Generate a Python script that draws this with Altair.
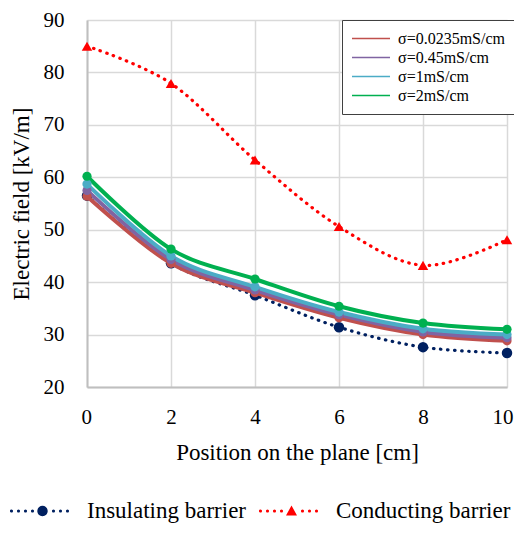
import altair as alt
import pandas as pd

positions = [0, 2, 4, 6, 8, 10]

sigma_labels = ["σ=0.0235mS/cm", "σ=0.45mS/cm", "σ=1mS/cm", "σ=2mS/cm"]
sigma_colors = ["#C0504D", "#8064A2", "#4BACC6", "#00B050"]
sigma_values = [
    [56.4, 43.6, 38.0, 33.2, 30.0, 28.8],
    [57.5, 44.3, 38.5, 33.8, 30.5, 29.4],
    [58.7, 45.0, 39.1, 34.3, 31.1, 30.0],
    [60.2, 46.3, 40.6, 35.4, 32.2, 31.0],
]

barrier_labels = ["Insulating barrier", "Conducting barrier"]
barrier_colors = ["#002060", "#FF0000"]
barrier_values = [
    [56.5, 43.6, 37.5, 31.4, 27.6, 26.5],
    [85.0, 77.9, 63.3, 50.6, 43.2, 48.1],
]

sig_rows = []
for lab, vals in zip(sigma_labels, sigma_values):
    for i, (x, v) in enumerate(zip(positions, vals)):
        sig_rows.append({"pos": x, "E": v, "sigma": lab, "order": i})
sig_df = pd.DataFrame(sig_rows)

bar_rows = []
for lab, vals in zip(barrier_labels, barrier_values):
    for i, (x, v) in enumerate(zip(positions, vals)):
        bar_rows.append({"pos": x, "E": v, "barrier": lab, "order": i})
bar_df = pd.DataFrame(bar_rows)


# legend symbol paths (dotted line with marker in the middle), unit box -1..1
HALF = 32.5  # half width of legend symbol in px


def circ(cx, r):
    return f"M{cx - r:.4f},0a{r:.4f},{r:.4f} 0 1,0 {2 * r:.4f},0a{r:.4f},{r:.4f} 0 1,0 {-2 * r:.4f},0Z"


def dotted(marker):
    parts = []
    px = -HALF + 1.5
    while px <= HALF - 1.5:
        if abs(px) > 8:
            parts.append(circ(px / HALF, 1.6 / HALF))
        px += 7
    if marker == "circle":
        parts.append(circ(0, 5.2 / HALF))
    else:
        h = 5.5 / HALF
        parts.append(f"M0,{-h:.4f}L{h:.4f},{0.8 * h:.4f}L{-h:.4f},{0.8 * h:.4f}Z")
    return "".join(parts)


legend_paths = [dotted("circle"), dotted("triangle")]

FONT = "Liberation Serif"

x_enc = alt.X(
    "pos:Q",
    scale=alt.Scale(domain=[0, 10], nice=False),
    axis=alt.Axis(
        values=positions,
        title="Position on the plane [cm]",
        labelFlush=True,
        labelFlushOffset=6,
    ),
)
y_enc = alt.Y(
    "E:Q",
    scale=alt.Scale(domain=[20, 90], nice=False, zero=False),
    axis=alt.Axis(values=[20, 30, 40, 50, 60, 70, 80, 90], title="Electric field [kV/m]"),
)

bar_color = alt.Color(
    "barrier:N",
    scale=alt.Scale(domain=barrier_labels, range=barrier_colors),
    legend=None,
)

bar_lines = alt.Chart(bar_df).mark_line(
    interpolate="cardinal", strokeWidth=3.2, strokeDash=[0.5, 6.5], strokeCap="round"
).encode(x=x_enc, y=y_enc, color=bar_color, order="order:Q")

bar_points = alt.Chart(bar_df).mark_point(filled=True, opacity=1, size=110).encode(
    x=x_enc,
    y=y_enc,
    color=bar_color,
    shape=alt.Shape(
        "barrier:N",
        scale=alt.Scale(domain=barrier_labels, range=["circle", "triangle-up"]),
        legend=None,
    ),
)

bottom_legend = alt.Legend(
    title=None,
    orient="none",
    direction="horizontal",
    legendX=-77,
    legendY=476,
    labelFont=FONT,
    labelFontSize=23,
    labelColor="#000000",
    labelLimit=400,
    labelOffset=12,
    columnPadding=12,
    symbolSize=(2 * HALF) ** 2,
    symbolOpacity=1,
    symbolStrokeWidth=0,
    clipHeight=30,
    padding=0,
)

legend_layer = alt.Chart(bar_df).mark_point(filled=True, opacity=0).encode(
    x=x_enc,
    y=y_enc,
    color=alt.Color(
        "barrier:N",
        scale=alt.Scale(domain=barrier_labels, range=barrier_colors),
        legend=bottom_legend,
    ),
    shape=alt.Shape(
        "barrier:N",
        scale=alt.Scale(domain=barrier_labels, range=legend_paths),
        legend=bottom_legend,
    ),
)

top_legend = alt.Legend(
    title=None,
    orient="none",
    legendX=255,
    legendY=0,
    symbolType="stroke",
    symbolSize=1444,
    symbolStrokeWidth=1.5,
    labelFont=FONT,
    labelFontSize=16,
    labelColor="#000000",
    labelOffset=7,
    clipHeight=19,
    rowPadding=0,
    padding=9,
    strokeColor="#404040",
    fillColor="#FFFFFF",
)

sig_lines = alt.Chart(sig_df).mark_line(interpolate="cardinal", strokeWidth=4).encode(
    x=x_enc,
    y=y_enc,
    color=alt.Color(
        "sigma:N",
        scale=alt.Scale(domain=sigma_labels, range=sigma_colors),
        legend=top_legend,
    ),
    order="order:Q",
)

sig_points = alt.Chart(sig_df).mark_point(filled=True, opacity=1, size=85).encode(
    x=x_enc,
    y=y_enc,
    color=alt.Color(
        "sigma:N",
        scale=alt.Scale(domain=sigma_labels, range=sigma_colors),
        legend=None,
    ),
)

chart = (
    alt.layer(bar_lines, bar_points, sig_lines, sig_points, legend_layer)
    .resolve_scale(color="independent", shape="independent")
    .properties(
        width=420,
        height=367,
        autosize=alt.AutoSizeParams(type="none"),
        padding={"left": 79, "top": 12, "right": 7, "bottom": 138},
        background="#FFFFFF",
    )
    .configure_view(stroke=None)
    .configure_axis(
        labelFont=FONT,
        labelFontSize=21,
        labelColor="#000000",
        titleFont=FONT,
        titleFontSize=23,
        titleFontWeight="normal",
        titleColor="#000000",
        gridColor="#D9D9D9",
        gridWidth=1.5,
        domainColor="#BFBFBF",
        domainWidth=2,
        ticks=False,
        tickSize=0,
    )
    .configure_axisX(labelPadding=19, titlePadding=14)
    .configure_axisY(labelPadding=23, titlePadding=10)
)

chart.save("out.html", embed_options={"renderer": "svg", "actions": False})
